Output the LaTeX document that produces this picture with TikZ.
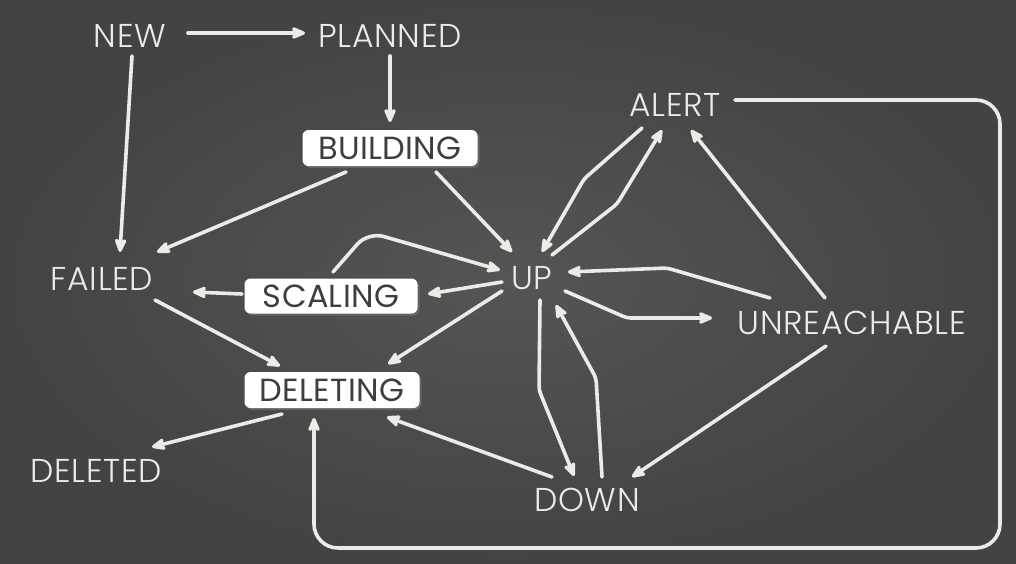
\documentclass[tikz,border=0pt]{standalone}
\usepackage{fontspec}
\IfFontExistsTF{Poppins Light}{\setmainfont{Poppins Light}[LetterSpace=2]}{\setmainfont{Poppins}[LetterSpace=2]}
\newfontfamily\boxfont{Poppins}[LetterSpace=1]
\usetikzlibrary{arrows.meta,calc,shadows}
\definecolor{chalk}{HTML}{EEEBE7}
\definecolor{boardin}{HTML}{555555}
\definecolor{boardout}{HTML}{434343}
\definecolor{boxtext}{HTML}{3E3E3E}
\tikzset{
  state/.style={text=chalk,font=\fontsize{33}{34}\selectfont,inner sep=0pt},
  boxstate/.style={fill=white,text=boxtext,rounded corners=6pt,font=\boxfont\fontsize{32}{33}\selectfont,
    minimum width=175pt,minimum height=36pt,inner sep=0pt,
    drop shadow={opacity=0.45,shadow xshift=2pt,shadow yshift=-2pt}},
  link/.style={draw=chalk,line width=3.6pt,line cap=round,rounded corners=4pt,
    -{Stealth[length=18pt,width=15pt,inset=5pt,round]}},
}
\begin{document}
\begin{tikzpicture}[x=1pt,y=-1pt]
\useasboundingbox (0,0) rectangle (1016,563);
\shade[inner color=boardin,outer color=boardout] (0,0) rectangle (1016,563);

\node[state] (NEW) at (130,36) {NEW};
\node[state] (PLANNED) at (390,36) {PLANNED};
\node[boxstate] (BUILDING) at (390,148) {BUILDING};
\node[state] (ALERT) at (675,105) {ALERT};
\node[state] (FAILED) at (102,279) {FAILED};
\node[boxstate,minimum width=173pt,minimum height=35pt] (SCALING) at (331,296) {SCALING};
\node[state] (UP) at (532,278) {UP};
\node[state] (UNREACHABLE) at (852,323) {UNREACHABLE};
\node[boxstate] (DELETING) at (332,390) {DELETING};
\node[state] (DELETED) at (96,471) {DELETED};
\node[state] (DOWN) at (587,500) {DOWN};

\draw[link] ($(NEW)+(58,-3)$) -- ($(PLANNED)+(-85,-3)$);
\draw[link] ($(NEW)+(2,20)$) -- ($(FAILED)+(18,-27)$);
\draw[link] ($(PLANNED)+(0,20)$) -- ($(BUILDING)+(0,-26)$);
\draw[link] ($(BUILDING)+(-44,24)$) -- ($(FAILED)+(55,-27)$);
\draw[link] ($(BUILDING)+(46,24)$) -- ($(UP)+(-20,-26)$);
\draw[link,rounded corners=16pt] ($(SCALING)+(2,-24)$) -- ($(SCALING)+(37,-64)$) -- ($(UP)+(-32,-8)$);
\draw[link] ($(UP)+(-30,4)$) -- ($(SCALING)+(97,-2)$);
\draw[link] ($(SCALING)+(-89,-2)$) -- ($(FAILED)+(91,13)$);
\draw[link] ($(UP)+(-30,13)$) -- ($(DELETING)+(56,-26)$);
\draw[link] ($(FAILED)+(53,21)$) -- ($(DELETING)+(-52,-24)$);
\draw[link] ($(DELETING)+(-50,24)$) -- ($(DELETED)+(56,-24)$);
\draw[link] ($(DOWN)+(-35,-23)$) -- ($(DELETING)+(55,27)$);
\draw[link,rounded corners=24pt] ($(ALERT)+(60,-5)$) -- (1000,100) -- (1000,548) -- (314,548) -- ($(DELETING)+(-18,28)$);
\draw[link] ($(ALERT)+(-33,23)$) -- (584,179) -- ($(UP)+(10,-26)$);
\draw[link] ($(UP)+(20,-23)$) -- (617,204) -- ($(ALERT)+(-13,25)$);
\draw[link] ($(UNREACHABLE)+(-27,-25)$) -- ($(ALERT)+(16,25)$);
\draw[link] ($(UNREACHABLE)+(-82,-25)$) -- (667,268) -- ($(UP)+(36,-6)$);
\draw[link] ($(UP)+(33,13)$) -- (627,318) -- ($(UNREACHABLE)+(-140,-5)$);
\draw[link] ($(UP)+(8,22)$) -- (539,390) -- ($(DOWN)+(-13,-24)$);
\draw[link] ($(DOWN)+(15,-23)$) -- (596,378) -- ($(UP)+(24,27)$);
\draw[link] ($(UNREACHABLE)+(-26,23)$) -- ($(DOWN)+(45,-23)$);
\end{tikzpicture}
\end{document}
